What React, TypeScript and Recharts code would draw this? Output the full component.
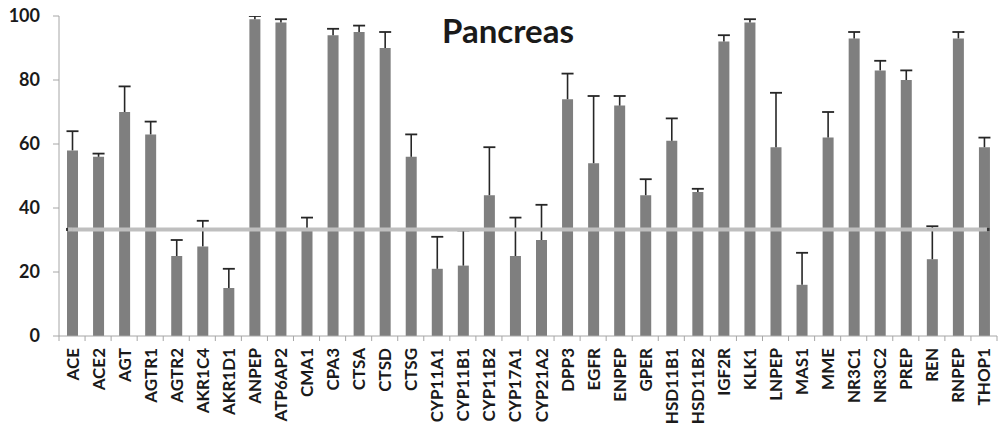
import React from 'react';
import { ComposedChart, Bar, Line, XAxis, YAxis } from 'recharts';

const genes = [
  'ACE', 'ACE2', 'AGT', 'AGTR1', 'AGTR2', 'AKR1C4', 'AKR1D1', 'ANPEP', 'ATP6AP2', 'CMA1',
  'CPA3', 'CTSA', 'CTSD', 'CTSG', 'CYP11A1', 'CYP11B1', 'CYP11B2', 'CYP17A1', 'CYP21A2', 'DPP3',
  'EGFR', 'ENPEP', 'GPER', 'HSD11B1', 'HSD11B2', 'IGF2R', 'KLK1', 'LNPEP', 'MAS1', 'MME',
  'NR3C1', 'NR3C2', 'PREP', 'REN', 'RNPEP', 'THOP1',
];
const means = [
  58, 56, 70, 63, 25, 28, 15, 99, 98, 33,
  94, 95, 90, 56, 21, 22, 44, 25, 30, 74,
  54, 72, 44, 61, 45, 92, 98, 59, 16, 62,
  93, 83, 80, 24, 93, 59,
];
const upperEnds = [
  64, 57, 78, 67, 30, 36, 21, 100, 99, 37,
  96, 97, 95, 63, 31, 33, 59, 37, 41, 82,
  75, 75, 49, 68, 46, 94, 99, 76, 26, 70,
  95, 86, 83, 34.3, 95, 62,
];
const threshold = 33.3;
const yTicks = [0, 20, 40, 60, 80, 100];
const title = 'Pancreas';

const data = genes.map((g, i) => ({
  gene: g,
  value: means[i],
  errLen: upperEnds[i] - means[i],
  threshold,
}));

const W = 998;
const H = 427;
const MARGIN = { top: 16, right: 1, bottom: 0, left: 0 };
const Y_W = 59;
const X_H = 91;
const BAND = (W - MARGIN.left - MARGIN.right - Y_W) / genes.length;
const FONT = 'Lato, "Open Sans", sans-serif';
const AXIS_GRAY = '#A6A6A6';
const ERR_COLOR = '#262626';
const TEXT_COLOR = '#1A1A1A';

const XTick = (props: any) => {
  const { x, y, payload, index } = props;
  const last = index === genes.length - 1;
  return (
    <g transform={`translate(${x},${y})`}>
      <line x1={-BAND / 2} x2={-BAND / 2} y1={0} y2={5} stroke={AXIS_GRAY} strokeWidth={1} />
      {last && <line x1={BAND / 2} x2={BAND / 2} y1={0} y2={5} stroke={AXIS_GRAY} strokeWidth={1} />}
      <text
        transform="rotate(-90)"
        x={-12}
        y={6.5}
        textAnchor="end"
        fontFamily={FONT}
        fontWeight={700}
        fontSize={17}
        fill={TEXT_COLOR}
      >
        {payload.value}
      </text>
    </g>
  );
};

const ErrShape = (props: any) => {
  const { x, y, width, height } = props;
  if (height == null || width == null) return <g />;
  const cx = x + width / 2;
  return (
    <g>
      <line x1={cx} x2={cx} y1={y} y2={y + height} stroke={ERR_COLOR} strokeWidth={1.6} />
      <line x1={x - 0.5} x2={x + width + 0.5} y1={y} y2={y} stroke={ERR_COLOR} strokeWidth={1.8} />
    </g>
  );
};

const EndDot = (props: any) => {
  const { cx, cy, index } = props;
  if (index === 0) {
    return (
      <g>
        <rect x={cx - 4} y={cy - 2} width={4} height={4} fill="#BFBFBF" />
        <rect x={cx - 6} y={cy - 1.5} width={2} height={3} fill="#333" />
      </g>
    );
  }
  if (index === genes.length - 1) {
    return (
      <g>
        <rect x={cx} y={cy - 2} width={3} height={4} fill="#BFBFBF" />
        <rect x={cx + 3} y={cy - 1.5} width={2.5} height={3} fill="#333" />
      </g>
    );
  }
  return <g />;
};

export default function App() {
  return (
    <div style={{ position: 'absolute', left: 0, top: 0, width: W, height: H, background: '#fff' }}>
      <ComposedChart width={W} height={H} data={data} margin={MARGIN}>
        <YAxis
          type="number"
          domain={[0, 100]}
          ticks={yTicks}
          width={Y_W}
          tickSize={6}
          tickMargin={13}
          stroke={AXIS_GRAY}
          axisLine={{ stroke: AXIS_GRAY }}
          tickLine={{ stroke: AXIS_GRAY }}
          tick={{ fontFamily: FONT, fontWeight: 700, fontSize: 18, fill: TEXT_COLOR }}
          interval={0}
          allowDataOverflow
        />
        <XAxis
          dataKey="gene"
          interval={0}
          height={X_H}
          tickSize={0}
          tickMargin={0}
          tickLine={false}
          axisLine={{ stroke: AXIS_GRAY }}
          tick={<XTick />}
        />
        <Bar dataKey="value" stackId="s" fill="#7F7F7F" barSize={11} isAnimationActive={false} />
        <Bar dataKey="errLen" stackId="s" barSize={11} shape={<ErrShape />} isAnimationActive={false} />
        <Line
          dataKey="threshold"
          stroke="#BFBFBF"
          strokeWidth={4}
          dot={<EndDot />}
          activeDot={false}
          isAnimationActive={false}
        />
      </ComposedChart>
      <div
        style={{
          position: 'absolute',
          left: 408,
          width: 200,
          top: 10,
          textAlign: 'center',
          fontFamily: FONT,
          fontWeight: 700,
          fontSize: 33,
          lineHeight: '40px',
          color: TEXT_COLOR,
        }}
      >
        {title}
      </div>
    </div>
  );
}
